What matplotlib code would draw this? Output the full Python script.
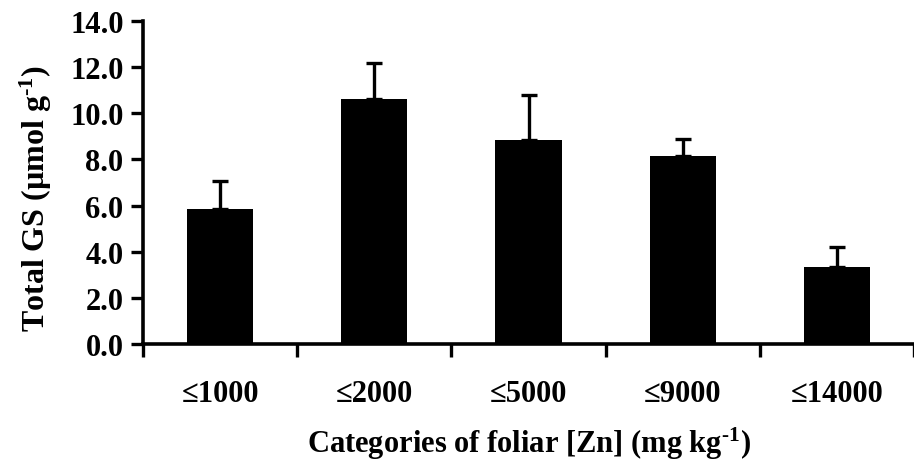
import matplotlib
matplotlib.use("Agg")
import matplotlib.pyplot as plt
import numpy as np
from matplotlib.ticker import FixedLocator, FormatStrFormatter

plt.rcParams['font.family'] = ['Liberation Serif', 'DejaVu Serif']
plt.rcParams['font.weight'] = 'bold'
plt.rcParams['axes.labelweight'] = 'bold'
plt.rcParams['mathtext.fontset'] = 'custom'
plt.rcParams['mathtext.rm'] = 'Liberation Serif:bold'
plt.rcParams['mathtext.bf'] = 'Liberation Serif:bold'
plt.rcParams['mathtext.default'] = 'bf'

# data
categories = ["≤1000", "≤2000", "≤5000", "≤9000", "≤14000"]
total_gs = [5.87, 10.64, 8.84, 8.16, 3.33]
err_up = [1.20, 1.56, 1.97, 0.71, 0.87]

W, H = 914, 464
fig = plt.figure(figsize=(W / 100, H / 100), dpi=100)
ax = fig.add_axes([143 / W, 1 - 345 / H, (914 - 143) / W, (345 - 22) / H])

x = np.arange(len(categories))
ax.bar(x, total_gs, width=0.43, color='black', zorder=2)
ax.errorbar(x, total_gs, yerr=[np.zeros(len(x)), err_up], fmt='none',
            ecolor='black', elinewidth=2.4, capsize=6, capthick=2.4, zorder=1)

ax.set_xlim(-0.5, len(categories) - 0.5)
ax.set_ylim(0, 14)
ax.set_yticks(np.arange(0, 14.1, 2))
ax.yaxis.set_major_formatter(FormatStrFormatter('%.1f'))

ax.set_xticks(x)
ax.set_xticklabels(categories)
ax.xaxis.set_minor_locator(FixedLocator(np.arange(-0.5, len(categories), 1.0)))
ax.tick_params(axis='x', which='major', length=0, pad=25, labelsize=22)
ax.tick_params(axis='x', which='minor', length=9, width=2.4, direction='out')
ax.tick_params(axis='y', length=9, width=2.4, direction='out', pad=5, labelsize=22)

for s in ['top', 'right']:
    ax.spines[s].set_visible(False)
for s in ['left', 'bottom']:
    ax.spines[s].set_linewidth(2.6)

ax.set_xlabel(r"Categories of foliar [Zn] (mg kg$^{\text{-1}}$)", fontsize=22, labelpad=12)
ax.set_ylabel(r"Total GS (µmol g$^{\text{-1}}$)", fontsize=23)
ax.yaxis.set_label_coords(-0.116, 0.455)

fig.savefig("out.png", dpi=100)
